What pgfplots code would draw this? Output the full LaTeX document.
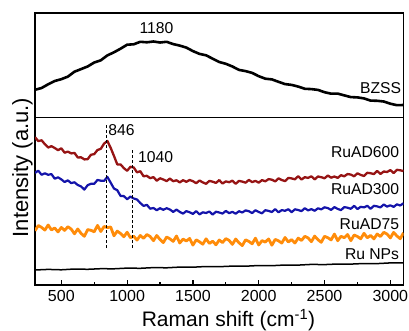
\documentclass[border=0pt]{standalone}
\usepackage{pgfplots}
\pgfplotsset{compat=1.18}
\usepackage{fontspec}
\setmainfont{Liberation Sans}
\definecolor{cred}{RGB}{150,20,20}
\definecolor{cblue}{RGB}{20,20,170}
\definecolor{corange}{RGB}{255,140,10}
\newcommand{\lab}{\fontsize{15.7bp}{18bp}\selectfont}
\begin{document}
\begin{tikzpicture}
\useasboundingbox (-35bp,-46bp) rectangle (374bp,285bp);
\begin{axis}[at={(0,0)}, anchor=south west, scale only axis,
  width=368.5bp, height=167.7bp,
  xmin=300, xmax=3100, ymin=0, ymax=167.7,
  ytick=\empty, xtick={500,1000,...,3000}, minor xtick={750,1250,...,2750},
  tick pos=left, tick align=inside,
  major tick length=5bp, minor tick length=3bp,
  axis line style={line width=1.2bp},
  every tick/.style={line width=1.2bp, black},
  xticklabel style={font=\fontsize{16bp}{18bp}\selectfont, yshift=-2bp},
  /pgf/number format/1000 sep={}, /pgf/number format/assume math mode=true,
  scaled ticks=false, clip=true,
  every axis plot/.append style={line join=round}]
\addplot[cred, line width=2.3bp] coordinates {
(300,147.8)(325,143.9)(350,144.7)(375,140.8)(400,137.5)(425,138.8)(450,137.0)(475,134.8)(500,136.7)(525,132.3)
(550,133.4)(575,131.6)(600,132.1)(625,127.5)(650,127.7)(675,125.6)(700,125.8)(725,130.2)(750,130.9)(775,135.0)
(800,136.2)(825,141.4)(850,144.0)(875,137.1)(900,129.1)(925,120.6)(950,120.6)(975,116.9)(1000,114.2)(1025,118.2)
(1050,117.5)(1075,112.7)(1100,113.8)(1125,108.7)(1150,109.2)(1175,106.8)(1200,107.9)(1225,104.3)(1250,106.7)(1275,105.5)
(1300,103.9)(1325,106.4)(1350,103.8)(1375,104.7)(1400,102.6)(1425,104.8)(1450,103.2)(1475,105.0)(1500,103.8)(1525,101.8)
(1550,104.5)(1575,102.6)(1600,101.2)(1625,104.1)(1650,103.3)(1675,102.1)(1700,104.9)(1725,101.5)(1750,103.6)(1775,102.8)
(1800,104.3)(1825,101.2)(1850,104.1)(1875,103.4)(1900,102.3)(1925,105.1)(1950,102.9)(1975,104.1)(2000,102.4)(2025,104.9)
(2050,103.7)(2075,105.9)(2100,105.3)(2125,103.6)(2150,106.6)(2175,105.0)(2200,103.9)(2225,107.1)(2250,106.6)(2275,105.7)
(2300,108.8)(2325,105.5)(2350,107.8)(2375,107.1)(2400,108.7)(2425,105.6)(2450,108.5)(2475,107.8)(2500,106.7)(2525,109.5)
(2550,107.3)(2575,108.5)(2600,107.1)(2625,109.8)(2650,108.7)(2675,111.0)(2700,110.4)(2725,108.7)(2750,111.7)(2775,110.1)
(2800,109.0)(2825,112.2)(2850,111.8)(2875,110.9)(2900,114.1)(2925,111.0)(2950,113.5)(2975,113.0)(3000,114.9)(3025,112.0)
(3050,115.2)(3075,114.7)(3100,113.9)};
\addplot[cblue, line width=2.2bp] coordinates {
(300,112.1)(325,114.3)(350,110.2)(375,111.7)(400,110.2)(425,110.9)(450,106.3)(475,107.7)(500,105.6)(525,103.0)
(550,104.6)(575,101.9)(600,102.7)(625,100.0)(650,98.6)(675,95.4)(700,99.8)(725,101.2)(750,101.2)(775,105.1)
(800,104.3)(825,104.1)(850,108.1)(875,102.3)(900,96.5)(925,94.8)(950,89.1)(975,88.9)(1000,85.8)(1025,88.4)
(1050,86.5)(1075,85.5)(1100,82.0)(1125,79.1)(1150,80.2)(1175,76.3)(1200,77.0)(1225,74.8)(1250,76.8)(1275,75.2)
(1300,76.8)(1325,75.5)(1350,73.1)(1375,75.4)(1400,73.1)(1425,71.4)(1450,73.9)(1475,72.7)(1500,71.1)(1525,73.9)
(1550,70.6)(1575,72.7)(1600,72.0)(1625,73.5)(1650,70.4)(1675,73.3)(1700,72.5)(1725,71.4)(1750,74.1)(1775,71.9)
(1800,73.1)(1825,71.3)(1850,73.8)(1875,72.5)(1900,74.6)(1925,73.8)(1950,71.9)(1975,74.8)(2000,73.0)(2025,71.7)
(2050,74.8)(2075,74.1)(2100,73.0)(2125,75.9)(2150,72.7)(2175,74.9)(2200,74.2)(2225,75.8)(2250,72.8)(2275,75.7)
(2300,75.0)(2325,73.9)(2350,76.8)(2375,74.6)(2400,75.9)(2425,74.2)(2450,76.7)(2475,75.6)(2500,77.7)(2525,76.9)
(2550,75.1)(2575,77.9)(2600,76.1)(2625,74.9)(2650,77.9)(2675,77.3)(2700,76.2)(2725,79.2)(2750,75.9)(2775,78.2)
(2800,77.6)(2825,79.2)(2850,76.2)(2875,79.2)(2900,78.6)(2925,77.6)(2950,80.5)(2975,78.4)(3000,79.7)(3025,78.1)
(3050,80.7)(3075,79.5)(3100,81.7)};
\addplot[corange, line width=2.8bp] coordinates {
(300,54.2)(325,59.5)(350,57.6)(375,54.9)(400,60.0)(425,55.1)(450,57.0)(475,53.1)(500,57.6)(525,54.6)
(550,58.3)(575,55.9)(600,51.2)(625,56.0)(650,51.6)(675,48.7)(700,55.4)(725,54.7)(750,53.2)(775,59.6)
(800,53.5)(825,58.5)(850,57.4)(875,58.0)(900,49.2)(925,53.9)(950,51.5)(975,48.2)(1000,52.8)(1025,47.3)
(1050,48.8)(1075,44.9)(1100,49.5)(1125,46.7)(1150,50.5)(1175,48.5)(1200,44.3)(1225,49.5)(1250,45.5)(1275,42.4)
(1300,48.0)(1325,46.2)(1350,43.6)(1375,49.0)(1400,42.0)(1425,45.9)(1450,44.0)(1475,46.6)(1500,39.9)(1525,45.2)
(1550,43.2)(1575,40.8)(1600,46.2)(1625,41.6)(1650,43.8)(1675,40.2)(1700,45.0)(1725,42.4)(1750,46.4)(1775,44.6)
(1800,40.6)(1825,46.0)(1850,42.2)(1875,39.4)(1900,45.2)(1925,43.6)(1950,41.2)(1975,46.8)(2000,40.0)(2025,44.4)
(2050,42.9)(2075,46.1)(2100,39.8)(2125,45.6)(2150,44.2)(2175,41.9)(2200,47.5)(2225,43.0)(2250,45.4)(2275,42.0)
(2300,46.9)(2325,44.5)(2350,48.7)(2375,47.1)(2400,43.3)(2425,48.9)(2450,45.3)(2475,42.7)(2500,48.7)(2525,47.3)
(2550,45.1)(2575,50.9)(2600,44.3)(2625,48.7)(2650,47.3)(2675,50.5)(2700,44.3)(2725,50.0)(2750,48.5)(2775,46.2)
(2800,51.7)(2825,47.2)(2850,49.6)(2875,46.1)(2900,51.0)(2925,48.5)(2950,52.7)(2975,51.0)(3000,47.1)(3025,52.6)
(3050,49.0)(3075,46.3)(3100,52.2)};
\addplot[black, line width=1.5bp] coordinates {
(300,15.0)(400,15.6)(500,15.2)(600,16.0)(700,15.7)(800,16.3)(900,16.2)(1000,16.9)(1100,16.7)(1200,17.4)
(1300,17.2)(1400,17.9)(1500,17.8)(1600,18.5)(1700,18.3)(1800,18.9)(1900,18.8)(2000,19.5)(2100,19.3)(2200,20.0)
(2300,19.9)(2400,20.6)(2500,20.4)(2600,21.0)(2700,20.9)(2800,21.5)(2900,21.4)(3000,22.1)(3100,22.0)};
\draw[black, line width=0.9bp, dash pattern=on 3bp off 2bp] (axis cs:846,37) -- (axis cs:846,160);
\draw[black, line width=0.9bp, dash pattern=on 3bp off 2bp] (axis cs:1040,37) -- (axis cs:1040,135);
\node[anchor=west, inner sep=0pt, font=\lab] at (axis cs:856,154.5) {846};
\node[anchor=west, inner sep=0pt, font=\lab] at (axis cs:1083,127.5) {1040};
\node[anchor=east, inner sep=0pt, font=\lab] at (axis cs:3068,132.5) {RuAD600};
\node[anchor=east, inner sep=0pt, font=\lab] at (axis cs:3068,96) {RuAD300};
\node[anchor=east, inner sep=0pt, font=\lab] at (axis cs:3068,61) {RuAD75};
\node[anchor=east, inner sep=0pt, font=\lab] at (axis cs:3068,31) {Ru NPs};
\end{axis}
\begin{axis}[at={(0,167.7bp)}, anchor=south west, scale only axis,
  width=368.5bp, height=104.3bp,
  xmin=300, xmax=3100, ymin=0, ymax=104.3,
  xtick=\empty, ytick=\empty,
  axis line style={line width=1.2bp}, clip=true,
  every axis plot/.append style={line join=round}]
\addplot[black, line width=2.6bp] coordinates {
(300,27.5)(350,29.3)(400,33.0)(450,36.3)(500,38.1)(550,40.7)(600,45.6)(650,48.2)(700,50.8)(750,54.8)
(800,57.0)(850,61.9)(900,65.0)(950,68.6)(1000,72.6)(1050,73.0)(1100,75.5)(1150,75.0)(1200,75.8)(1250,74.8)
(1300,75.5)(1350,73.2)(1400,71.7)(1450,69.7)(1500,66.2)(1550,63.4)(1600,62.0)(1650,58.6)(1700,55.3)(1750,53.5)
(1800,50.8)(1850,47.4)(1900,46.2)(1950,44.4)(2000,41.1)(2050,38.6)(2100,37.9)(2150,35.5)(2200,33.2)(2250,32.4)
(2300,30.7)(2350,28.5)(2400,28.2)(2450,27.4)(2500,25.1)(2550,23.6)(2600,23.7)(2650,21.9)(2700,20.2)(2750,19.9)
(2800,18.9)(2850,16.7)(2900,16.5)(2950,15.8)(3000,13.6)(3050,12.1)(3100,12.3)};
\node[anchor=center, inner sep=0pt, font=\lab] at (axis cs:1223,89) {1180};
\node[anchor=east, inner sep=0pt, font=\lab] at (axis cs:3083,29) {BZSS};
\end{axis}
\node[rotate=90, anchor=base, inner sep=0pt, font=\fontsize{22bp}{24bp}\selectfont] at (-7bp,117.5bp) {Intensity (a.u.)};
\node[anchor=base, inner sep=0pt, font=\fontsize{21bp}{24bp}\selectfont] at (193.5bp,-41.7bp) {Raman shift (cm\textsuperscript{-1})};
\end{tikzpicture}
\end{document}
